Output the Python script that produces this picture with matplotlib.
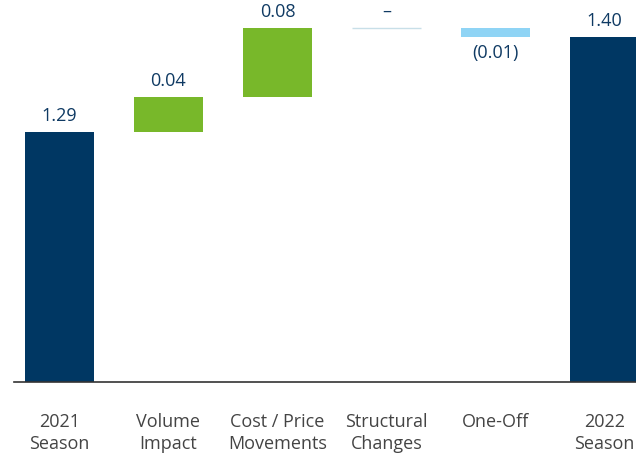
import matplotlib
matplotlib.use("Agg")
import matplotlib.pyplot as plt

categories = ["2021\nSeason", "Volume\nImpact", "Cost / Price\nMovements",
              "Structural\nChanges", "One-Off", "2022\nSeason"]
start_value = 1.29
deltas = [0.04, 0.08, 0.00, -0.01]
end_value = 1.40
value_labels = ["1.29", "0.04", "0.08", "\u2013", "(0.01)", "1.40"]

navy = "#003763"
green = "#78b82a"
light_blue = "#8fd4f5"
line_blue = "#c8dfe8"
text_navy = "#0f3a63"
tick_grey = "#444444"

plt.rcParams['font.family'] = ['Open Sans', 'DejaVu Sans']

fig = plt.figure(figsize=(6.36, 4.55), dpi=100)
ax = fig.add_axes([14 / 636, 73 / 455, 622 / 636, 382 / 455])

w = 0.63

ax.bar(0, start_value, width=w, color=navy)
ax.text(0, start_value + 0.008, value_labels[0], ha='center', va='bottom',
        color=text_navy, fontsize=13)

running = start_value
for i, d in enumerate(deltas, start=1):
    if d > 0:
        ax.bar(i, d, width=w, bottom=running, color=green)
        ax.text(i, running + d + 0.008, value_labels[i], ha='center', va='bottom',
                color=text_navy, fontsize=13)
    elif d < 0:
        ax.bar(i, -d, width=w, bottom=running + d, color=light_blue)
        ax.text(i, running + d - 0.008, value_labels[i], ha='center', va='top',
                color=text_navy, fontsize=13)
    else:
        ax.hlines(running, i - w / 2, i + w / 2, color=line_blue, lw=1)
        ax.text(i, running + 0.008, value_labels[i], ha='center', va='bottom',
                color=text_navy, fontsize=13)
    running += d

ax.bar(5, end_value, width=w, color=navy)
ax.text(5, end_value + 0.008, value_labels[5], ha='center', va='bottom',
        color=text_navy, fontsize=13)

ax.set_ylim(1.0, 1.0 + 382 / 863)
ax.set_xlim(-0.417, 5.289)
ax.set_xticks(range(len(categories)))
ax.set_xticklabels(categories, color=tick_grey, fontsize=13, linespacing=1.3)
ax.tick_params(axis='x', length=0, pad=22)
ax.set_yticks([])
for s in ['top', 'right', 'left']:
    ax.spines[s].set_visible(False)
ax.spines['bottom'].set_color('#333333')
ax.spines['bottom'].set_linewidth(1.2)

fig.savefig("out.png", dpi=100)
